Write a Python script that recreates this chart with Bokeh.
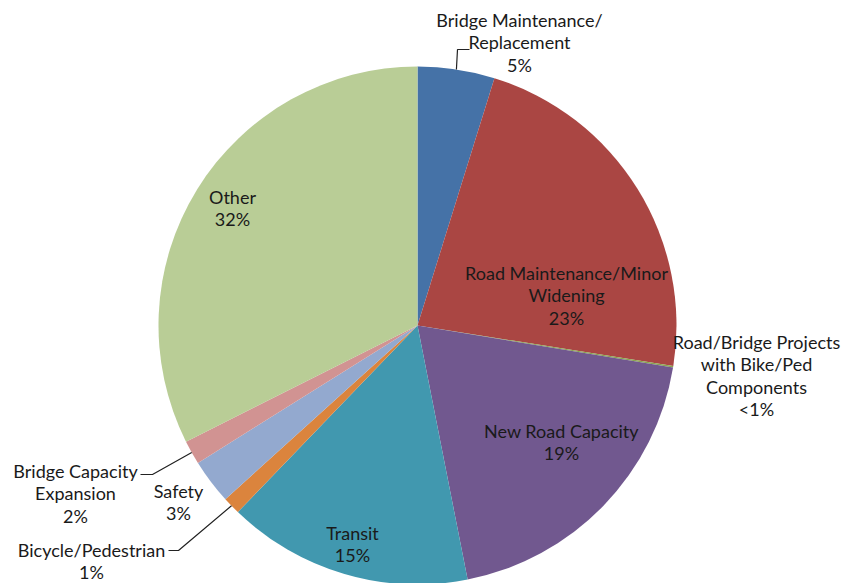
import math
from bokeh.plotting import figure
from bokeh.models import Range1d
from bokeh.core.properties import value
from bokeh.embed import file_html
from bokeh.resources import INLINE

# ---- data ----
categories = ["Bridge Maintenance/Replacement", "Road Maintenance/Minor Widening",
              "Road/Bridge Projects with Bike/Ped Components", "New Road Capacity",
              "Transit", "Bicycle/Pedestrian", "Safety", "Bridge Capacity Expansion", "Other"]
shares = [4.8, 22.7, 0.1, 19.3, 15.3, 1.1, 2.8, 1.5, 32.4]
pct_labels = ["5%", "23%", "<1%", "19%", "15%", "1%", "3%", "2%", "32%"]
label_lines = [
    ["Bridge Maintenance/", "Replacement"],
    ["Road Maintenance/Minor", "Widening"],
    ["Road/Bridge Projects", "with Bike/Ped", "Components"],
    ["New Road Capacity"],
    ["Transit"],
    ["Bicycle/Pedestrian"],
    ["Safety"],
    ["Bridge Capacity", "Expansion"],
    ["Other"],
]
colors = ["#4572A7", "#AA4643", "#89A54E", "#71588F", "#4198AF",
          "#DB843D", "#93A9CF", "#D19392", "#B9CD96"]

# ---- layout (pixel space, y measured from top) ----
W, H = 851, 583
cx, cy, R = 417, 325, 259
label_pos = [(519, 19), (566, 272), (756, 341), (561, 430), (352, 532),
             (91, 549), (178, 490), (75, 470), (232, 196)]
LINE_H = 22.5
leaders = {0: [(469, 49), (457, 49)],
           7: [(140, 474), (152, 474)],
           5: [(168, 550), (178, 550)]}

def Y(y):
    return H - y

p = figure(width=W, height=H, output_backend="svg", toolbar_location=None,
           x_range=Range1d(0, W), y_range=Range1d(0, H), min_border=0)
p.axis.visible = False
p.grid.visible = False
p.outline_line_color = None
p.background_fill_color = "white"
p.border_fill_color = "white"

total = sum(shares)
cum = 0.0
starts, ends, mids = [], [], []
for s in shares:
    a0 = math.pi / 2 - 2 * math.pi * cum / total
    cum += s
    a1 = math.pi / 2 - 2 * math.pi * cum / total
    starts.append(a0)
    ends.append(a1)
    mids.append((a0 + a1) / 2)

p.wedge(x=cx, y=Y(cy), radius=R, start_angle=starts, end_angle=ends,
        direction="clock", fill_color=colors, line_color=None)

for i, pts in leaders.items():
    ex = cx + R * math.cos(mids[i])
    ey = Y(cy) + R * math.sin(mids[i])
    xs = [pt[0] for pt in pts] + [ex]
    ys = [Y(pt[1]) for pt in pts] + [ey]
    p.line(xs, ys, line_color="#222222", line_width=1.2)

font = value("Lato")
for i, lines in enumerate(label_lines):
    lx, ly = label_pos[i]
    all_lines = lines + [pct_labels[i]]
    for j, t in enumerate(all_lines):
        p.text(x=[lx], y=[Y(ly + j * LINE_H)], text=[t], text_font=font,
               text_font_size="18px", text_color="#1a1a1a",
               text_align="center", text_baseline="middle")

open("out.html", "w").write(file_html(p, INLINE))
